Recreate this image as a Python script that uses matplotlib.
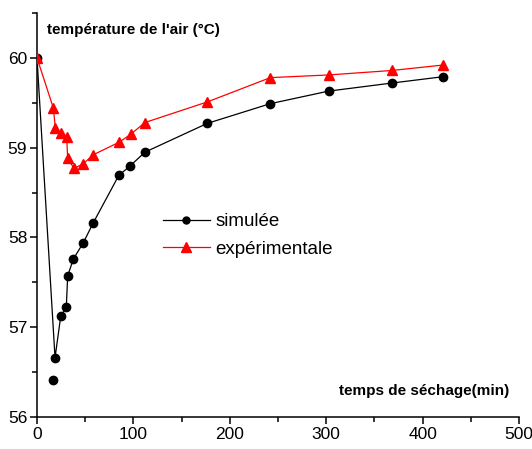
import matplotlib
matplotlib.use("Agg")
import matplotlib.pyplot as plt
from matplotlib.ticker import MultipleLocator

plt.rcParams["font.family"] = ["Liberation Sans", "DejaVu Sans"]

# temps de séchage (min) et température de l'air (°C)
t_sim = [0, 16.6, 18.7, 24.6, 30.4, 31.8, 37.7, 48, 58.2, 84.8, 96.9, 112,
         176.5, 242, 302.5, 368.3, 420.9]
T_sim = [60, 56.41, 56.66, 57.12, 57.22, 57.57, 57.76, 57.94, 58.16, 58.69,
         58.80, 58.95, 59.27, 59.49, 59.63, 59.72, 59.79]
# le point à 56.41 n'est pas relié par la courbe
sim_on_line = [True, False] + [True] * 15

t_exp = [0, 17, 19, 24.6, 30.8, 31.8, 38.4, 48, 58.2, 85.1, 97.3, 112,
         176.8, 242, 302.5, 368.3, 420.9]
T_exp = [60, 59.44, 59.22, 59.16, 59.12, 58.88, 58.77, 58.82, 58.92, 59.06,
         59.15, 59.28, 59.51, 59.78, 59.81, 59.86, 59.92]

W, H = 532, 449
fig = plt.figure(figsize=(W / 100, H / 100), dpi=100)
ax = fig.add_axes([37 / W, 1 - 417 / H, (519 - 37) / W, (417 - 13) / H])

line_t = [t for t, k in zip(t_sim, sim_on_line) if k]
line_T = [v for v, k in zip(T_sim, sim_on_line) if k]
ax.plot(line_t, line_T, color="black", lw=0.9, zorder=2)
ax.plot(t_sim, T_sim, ls="none", marker="o", ms=6, color="black", zorder=3)
ax.plot([], [], color="black", lw=0.9, marker="o", ms=5, label="simulée")

ax.plot(t_exp, T_exp, color="red", lw=0.9, marker="^", ms=7.5,
        zorder=4, label="expérimentale")

ax.set_xlim(0, 500)
ax.set_ylim(56, 60.5)
ax.xaxis.set_major_locator(MultipleLocator(100))
ax.xaxis.set_minor_locator(MultipleLocator(50))
ax.yaxis.set_major_locator(MultipleLocator(1))
ax.yaxis.set_minor_locator(MultipleLocator(0.5))

for side in ("top", "right"):
    ax.spines[side].set_visible(False)
for side in ("left", "bottom"):
    ax.spines[side].set_linewidth(1.1)

ax.tick_params(which="major", direction="out", length=5, width=1.1,
               labelsize=12.5, pad=2)
ax.tick_params(which="minor", direction="out", length=3.5, width=1.1)

leg = ax.legend(loc="upper left", bbox_to_anchor=(163 / W, 1 - 213 / H),
                bbox_transform=fig.transFigure, frameon=False,
                fontsize=13.5, handlelength=2.5, handletextpad=0.3,
                labelspacing=0.55, borderpad=0, borderaxespad=0)

fig.text(47 / W, 1 - 34 / H, "température de l'air (°C)", fontsize=11,
         fontweight="bold", va="baseline", ha="left")
fig.text(339 / W, 1 - 395 / H, "temps de séchage(min)", fontsize=11,
         fontweight="bold", va="baseline", ha="left")

fig.savefig("out.png", dpi=100)
